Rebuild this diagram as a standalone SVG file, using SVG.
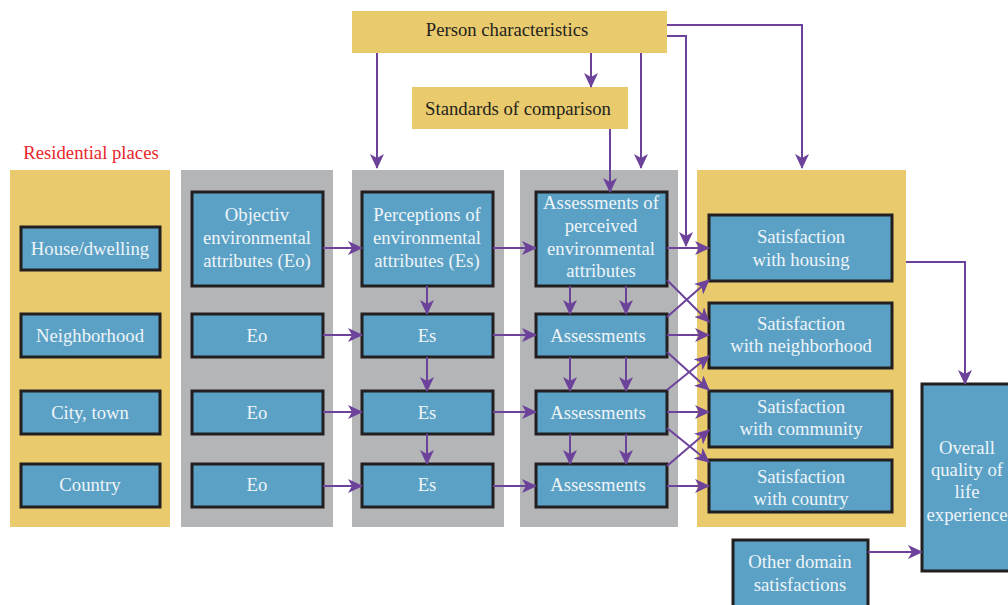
<svg xmlns="http://www.w3.org/2000/svg" width="1008" height="605" viewBox="0 0 1008 605">
<defs>
<style>
.bgy{fill:#E9CA6C}
.bgg{fill:#B4B5B7}
.node{fill:#5BA1C5;stroke:#231F20;stroke-width:3}
.hdr{fill:#E9CA6C}
.t{font-family:"Liberation Serif","Times New Roman",serif;font-size:18.7px;fill:#EEF4F8;text-anchor:middle}
.td{font-family:"Liberation Serif","Times New Roman",serif;font-size:18.7px;fill:#231F20;text-anchor:middle}
.tr{font-family:"Liberation Serif","Times New Roman",serif;font-size:18.7px;fill:#E8262B;text-anchor:middle}
.c{fill:none;stroke:#6C429A;stroke-width:2;marker-end:url(#ah)}
</style>
<marker id="ah" markerUnits="userSpaceOnUse" markerWidth="16" markerHeight="14" refX="14" refY="7" orient="auto">
<path d="M0,0 L15,7 L0,14 L4,7 z" fill="#6C429A"/>
</marker>
</defs>

<g id="backgrounds">
<rect class="bgy" x="10" y="170" width="160" height="357"/>
<rect class="bgg" x="181" y="170" width="152" height="357"/>
<rect class="bgg" x="352" y="170" width="152" height="357"/>
<rect class="bgg" x="520" y="170" width="158" height="357"/>
<rect class="bgy" x="697" y="170" width="209" height="357"/>
</g>

<g id="label-residential"><text class="tr" x="91" y="159">Residential places</text></g>

<g id="person"><rect class="hdr" x="352" y="11" width="315" height="42"/><text class="td" x="507" y="36">Person characteristics</text></g>
<g id="standards"><rect class="hdr" x="412" y="87" width="216" height="42"/><text class="td" x="518" y="115">Standards of comparison</text></g>

<g id="house"><rect class="node" x="21" y="227" width="139" height="43"/><text class="t" x="90" y="255">House/dwelling</text></g>
<g id="neighborhood"><rect class="node" x="21" y="314" width="139" height="43"/><text class="t" x="90" y="342">Neighborhood</text></g>
<g id="city"><rect class="node" x="21" y="391" width="139" height="43"/><text class="t" x="90" y="419">City, town</text></g>
<g id="country"><rect class="node" x="21" y="464" width="139" height="43"/><text class="t" x="90" y="491">Country</text></g>

<g id="eo1"><rect class="node" x="192" y="192" width="131" height="94"/><text class="t" x="257" y="221">Objectiv</text><text class="t" x="257" y="244">environmental</text><text class="t" x="257" y="267">attributes (Eo)</text></g>
<g id="eo2"><rect class="node" x="192" y="314" width="131" height="43"/><text class="t" x="257" y="342">Eo</text></g>
<g id="eo3"><rect class="node" x="192" y="391" width="131" height="43"/><text class="t" x="257" y="419">Eo</text></g>
<g id="eo4"><rect class="node" x="192" y="464" width="131" height="43"/><text class="t" x="257" y="491">Eo</text></g>

<g id="es1"><rect class="node" x="362" y="192" width="131" height="94"/><text class="t" x="427" y="221">Perceptions of</text><text class="t" x="427" y="244">environmental</text><text class="t" x="427" y="267">attributes (Es)</text></g>
<g id="es2"><rect class="node" x="362" y="314" width="131" height="43"/><text class="t" x="427" y="342">Es</text></g>
<g id="es3"><rect class="node" x="362" y="391" width="131" height="43"/><text class="t" x="427" y="419">Es</text></g>
<g id="es4"><rect class="node" x="362" y="464" width="131" height="43"/><text class="t" x="427" y="491">Es</text></g>

<g id="as1"><rect class="node" x="536" y="192" width="131" height="94"/><text class="t" x="601" y="209">Assessments of</text><text class="t" x="601" y="232">perceived</text><text class="t" x="601" y="255">environmental</text><text class="t" x="601" y="277">attributes</text></g>
<g id="as2"><rect class="node" x="536" y="314" width="131" height="43"/><text class="t" x="598" y="342">Assessments</text></g>
<g id="as3"><rect class="node" x="536" y="391" width="131" height="43"/><text class="t" x="598" y="419">Assessments</text></g>
<g id="as4"><rect class="node" x="536" y="464" width="131" height="43"/><text class="t" x="598" y="491">Assessments</text></g>

<g id="sat1"><rect class="node" x="709" y="215" width="183" height="66"/><text class="t" x="801" y="243">Satisfaction</text><text class="t" x="801" y="266">with housing</text></g>
<g id="sat2"><rect class="node" x="709" y="303" width="183" height="65"/><text class="t" x="801" y="330">Satisfaction</text><text class="t" x="801" y="352">with neighborhood</text></g>
<g id="sat3"><rect class="node" x="709" y="391" width="183" height="56"/><text class="t" x="801" y="413">Satisfaction</text><text class="t" x="801" y="435">with community</text></g>
<g id="sat4"><rect class="node" x="709" y="460" width="183" height="52"/><text class="t" x="801" y="483">Satisfaction</text><text class="t" x="801" y="505">with country</text></g>

<g id="overall"><rect class="node" x="922" y="384" width="100" height="187"/><text class="t" x="967" y="454">Overall</text><text class="t" x="967" y="476">quality of</text><text class="t" x="967" y="498">life</text><text class="t" x="967" y="521">experience</text></g>
<g id="other"><rect class="node" x="733" y="540" width="135" height="80"/><text class="t" x="800" y="568">Other domain</text><text class="t" x="800" y="591">satisfactions</text></g>

<g id="connectors">
<path class="c" d="M377,53 V168"/>
<path class="c" d="M591,53 V87"/>
<path class="c" d="M641,53 V168"/>
<path class="c" d="M610,129 V192"/>
<path class="c" d="M667,25 H802 V168"/>
<path class="c" d="M667,36 H686 V246"/>
<path class="c" d="M323,248 H362"/>
<path class="c" d="M323,335 H362"/>
<path class="c" d="M323,412 H362"/>
<path class="c" d="M323,486 H362"/>
<path class="c" d="M493,248 H536"/>
<path class="c" d="M493,335 H536"/>
<path class="c" d="M493,412 H536"/>
<path class="c" d="M493,486 H536"/>
<path class="c" d="M427,286 V314"/>
<path class="c" d="M427,357 V391"/>
<path class="c" d="M427,434 V464"/>
<path class="c" d="M570,286 V314"/>
<path class="c" d="M626,286 V314"/>
<path class="c" d="M570,357 V391"/>
<path class="c" d="M626,357 V391"/>
<path class="c" d="M570,434 V464"/>
<path class="c" d="M626,434 V464"/>
<path class="c" d="M667,248 H709"/>
<path class="c" d="M667,335 H709"/>
<path class="c" d="M667,412 H709"/>
<path class="c" d="M667,486 H709"/>
<path class="c" d="M667,280 L709,322"/>
<path class="c" d="M667,317 L709,280"/>
<path class="c" d="M667,352 L709,390"/>
<path class="c" d="M667,390 L709,356"/>
<path class="c" d="M667,428 L709,462"/>
<path class="c" d="M667,466 L709,430"/>
<path class="c" d="M906,262 H965 V384"/>
<path class="c" d="M868,552 H922"/>
</g>
</svg>
